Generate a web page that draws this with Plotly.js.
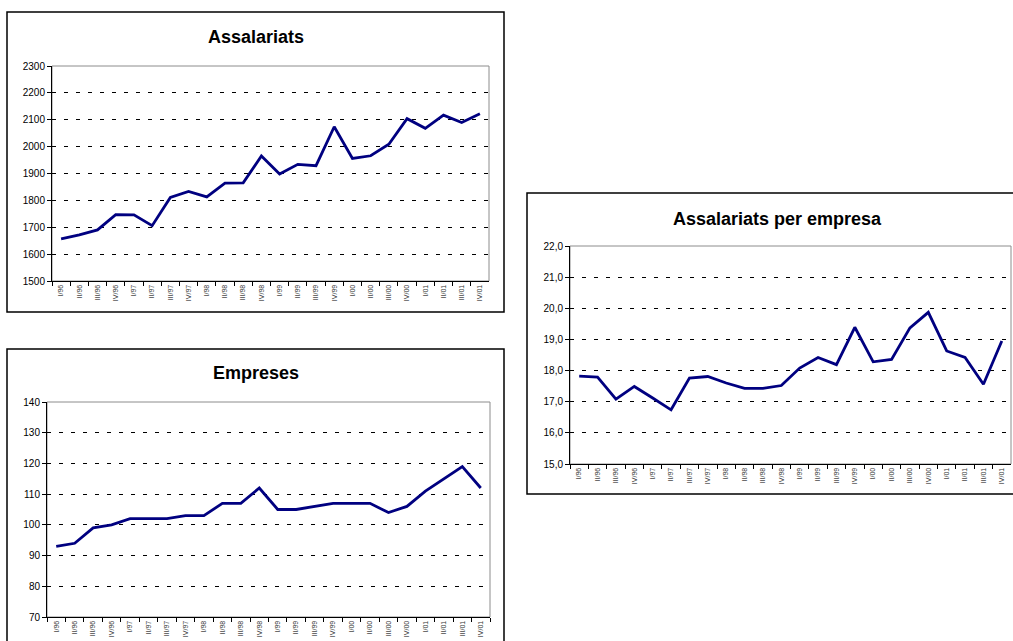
<!DOCTYPE html>
<html>
<head>
<meta charset="utf-8">
<script src="https://cdn.plot.ly/plotly-3.0.1.min.js"></script>
<style>html,body{margin:0;padding:0;background:#fff;}#chart{width:1013px;height:641px;}</style>
</head>
<body>
<div id="chart"></div>
<script>
const quarters = ["I/96","II/96","III/96","IV/96","I/97","II/97","III/97","IV/97","I/98","II/98","III/98","IV/98","I/99","II/99","III/99","IV/99","I/00","II/00","III/00","IV/00","I/01","II/01","III/01","IV/01"];
const assalariats = [1657,1672,1690,1747,1746,1706,1811,1833,1813,1864,1865,1965,1898,1934,1929,2074,1956,1966,2009,2104,2068,2117,2090,2122];
const empreses = [93,94,99,100,102,102,102,103,103,107,107,112,105,105,106,107,107,107,104,106,111,115,119,112];
const perEmpresa = [17.82,17.79,17.08,17.49,17.12,16.74,17.76,17.81,17.60,17.43,17.43,17.52,18.08,18.42,18.19,19.39,18.28,18.36,19.37,19.87,18.63,18.42,17.56,18.95];
const titles = ["Assalariats","Empreses","Assalariats per empresa"];

const W = 1013, H = 641;
const px = v => v / W;
const py = v => 1 - v / H;
const FONT = "Liberation Sans, Arial, sans-serif";
const NAVY = "#000080";

function xaxisDef(l, r, anchor) {
  return {
    domain: [px(l), px(r)], anchor: anchor, type: "category",
    range: [-0.5, quarters.length - 0.5],
    showline: true, linecolor: "#000", linewidth: 1,
    ticks: "outside", ticklen: 4, tickcolor: "#000", tickwidth: 1,
    tickson: "boundaries", tickangle: -90,
    tickfont: {family: FONT, size: 7, color: "#333"},
    showgrid: false, zeroline: false, fixedrange: true
  };
}
function yaxisDef(t, b, anchor, range, dtick, fmt) {
  const a = {
    domain: [py(b), py(t)], anchor: anchor,
    range: range, dtick: dtick, tick0: range[0],
    showline: true, linecolor: "#000", linewidth: 1,
    ticks: "outside", ticklen: 4, tickcolor: "#000", tickwidth: 1,
    tickfont: {family: FONT, size: 10, color: "#000"},
    showgrid: true, gridcolor: "#000", gridwidth: 1, griddash: "4px,8px",
    zeroline: false, fixedrange: true
  };
  if (fmt) a.tickformat = fmt;
  return a;
}

const traces = [
  {x: quarters, y: assalariats, xaxis: "x", yaxis: "y", type: "scatter", mode: "lines",
   line: {color: NAVY, width: 2.8}, hoverinfo: "skip"},
  {x: quarters, y: empreses, xaxis: "x2", yaxis: "y2", type: "scatter", mode: "lines",
   line: {color: NAVY, width: 2.8}, hoverinfo: "skip"},
  {x: quarters, y: perEmpresa, xaxis: "x3", yaxis: "y3", type: "scatter", mode: "lines",
   line: {color: NAVY, width: 2.8}, hoverinfo: "skip"}
];

const shapes = [
  {type: "rect", xref: "paper", yref: "paper", x0: px(7), x1: px(504), y0: py(312), y1: py(12),
   line: {color: "#000", width: 1.5}, layer: "below"},
  {type: "rect", xref: "paper", yref: "paper", x0: px(7), x1: px(504), y0: py(660), y1: py(349),
   line: {color: "#000", width: 1.5}, layer: "below"},
  {type: "rect", xref: "paper", yref: "paper", x0: px(527), x1: px(1030), y0: py(494), y1: py(193),
   line: {color: "#000", width: 1.5}, layer: "below"},
  {type: "rect", xref: "x domain", yref: "y domain", x0: 0, x1: 1, y0: 0, y1: 1, line: {color: "#8c8c8c", width: 1}, layer: "below"},
  {type: "rect", xref: "x2 domain", yref: "y2 domain", x0: 0, x1: 1, y0: 0, y1: 1, line: {color: "#8c8c8c", width: 1}, layer: "below"},
  {type: "rect", xref: "x3 domain", yref: "y3 domain", x0: 0, x1: 1, y0: 0, y1: 1, line: {color: "#8c8c8c", width: 1}, layer: "below"}
];

const annotations = [
  {text: "<b>" + titles[0] + "</b>", xref: "paper", yref: "paper", x: px(256), y: py(37), showarrow: false,
   xanchor: "center", yanchor: "middle", font: {family: FONT, size: 18, color: "#000"}},
  {text: "<b>" + titles[1] + "</b>", xref: "paper", yref: "paper", x: px(256), y: py(373), showarrow: false,
   xanchor: "center", yanchor: "middle", font: {family: FONT, size: 18, color: "#000"}},
  {text: "<b>" + titles[2] + "</b>", xref: "paper", yref: "paper", x: px(777), y: py(219), showarrow: false,
   xanchor: "center", yanchor: "middle", font: {family: FONT, size: 18, color: "#000"}}
];

const layout = {
  width: W, height: H,
  margin: {l: 0, r: 0, t: 0, b: 0, pad: 0},
  paper_bgcolor: "#fff", plot_bgcolor: "#fff",
  showlegend: false,
  separators: ", ",
  font: {family: FONT},
  xaxis: xaxisDef(52, 489, "y"),
  yaxis: yaxisDef(66, 281, "x", [1500, 2300], 100),
  xaxis2: xaxisDef(47, 490, "y2"),
  yaxis2: yaxisDef(402, 617, "x2", [70, 140], 10),
  xaxis3: xaxisDef(570, 1011, "y3"),
  yaxis3: yaxisDef(246, 464, "x3", [15, 22], 1, ".1f"),
  shapes: shapes,
  annotations: annotations
};

Plotly.newPlot("chart", traces, layout, {staticPlot: true, displayModeBar: false});
</script>
</body>
</html>
